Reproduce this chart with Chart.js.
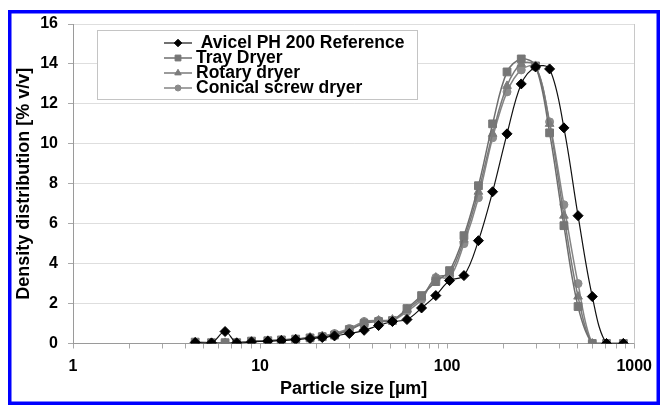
<!DOCTYPE html>
<html>
<head>
<meta charset="utf-8">
<script src="https://cdn.jsdelivr.net/npm/chart.js@4.4.0/dist/chart.umd.min.js"></script>
<style>
  html, body { margin: 0; padding: 0; background: #ffffff; }
  #wrap { position: relative; width: 660px; height: 406px; }
</style>
</head>
<body>
<div id="wrap"><canvas id="psd" width="660" height="406"></canvas></div>
<script>
// Laser-diffraction size classes (µm)
const particleSizes = [4.5, 5.5, 6.5, 7.5, 9, 11, 13, 15.5, 18.5, 21.5, 25, 30, 36, 43, 51, 61,
                       73, 87, 103, 123, 147, 175, 209, 249, 297, 353, 421, 501, 597, 711, 875];

// Density distribution [% v/v] per size class
const avicelReference = [0.05, 0.03, 0.6, 0.03, 0.08, 0.12, 0.15, 0.2, 0.25, 0.3, 0.38, 0.5, 0.66, 0.9, 1.1, 1.2,
                         1.78, 2.4, 3.15, 3.4, 5.15, 7.6, 10.5, 13.0, 13.85, 13.75, 10.8, 6.4, 2.35, 0, 0];
const trayDryer       = [0.07, 0.04, 0.04, 0.04, 0.12, 0.14, 0.18, 0.22, 0.28, 0.34, 0.42, 0.7, 1.0, 1.1, 1.15, 1.75,
                         2.4, 3.1, 3.65, 5.4, 7.9, 11.0, 13.6, 14.25, 13.9, 10.55, 5.9, 1.85, 0, 0, 0];
const rotaryDryer     = [0.05, 0.03, 0.03, 0.04, 0.11, 0.14, 0.17, 0.22, 0.3, 0.36, 0.45, 0.65, 1.05, 1.15, 1.2, 1.7,
                         2.3, 3.3, 3.5, 5.2, 7.6, 10.5, 12.9, 14.0, 13.9, 11.0, 6.4, 2.35, 0, 0, 0];
const conicalScrewDryer = [0.05, 0.03, 0.03, 0.04, 0.1, 0.13, 0.16, 0.22, 0.3, 0.38, 0.5, 0.75, 1.1, 1.15, 1.15, 1.6,
                         2.2, 3.3, 3.3, 5.0, 7.3, 10.3, 12.6, 13.7, 13.85, 11.1, 6.95, 3.0, 0, 0, 0];

const seriesNames = ['Avicel PH 200 Reference', 'Tray Dryer', 'Rotary dryer', 'Conical screw dryer'];
const xTickLabels = [1, 10, 100, 1000];
const yTickLabels = [0, 2, 4, 6, 8, 10, 12, 14, 16];

const FONT = '"Liberation Sans", Arial, sans-serif';

function points(values) {
  return particleSizes.map((s, i) => ({ x: s, y: values[i] }));
}

function series(label, values, color, lineColor, style, radius, width) {
  return {
    label: label,
    data: points(values),
    borderColor: lineColor,
    backgroundColor: color,
    pointBackgroundColor: color,
    pointBorderColor: color,
    pointBorderWidth: 1,
    pointStyle: style,
    pointRadius: radius,
    pointHoverRadius: radius,
    borderWidth: width,
    tension: 0.35,
    fill: false
  };
}

const datasets = [
  series(seriesNames[0], avicelReference, '#000000', '#111111', 'rectRot', 5, 1.2),
  series(seriesNames[1], trayDryer, '#767676', '#6e6e6e', 'rect', 5.5, 1.5),
  series(seriesNames[2], rotaryDryer, '#7c7c7c', '#7a7a7a', 'triangle', 5, 1.5),
  series(seriesNames[3], conicalScrewDryer, '#8c8c8c', '#858585', 'circle', 4, 1.5)
];

// Frame, outer border and the in-plot legend box
const decorations = {
  id: 'decorations',
  beforeDraw(chart) {
    const ctx = chart.ctx;
    ctx.save();
    ctx.fillStyle = '#ffffff';
    ctx.fillRect(0, 0, chart.width, chart.height);
    ctx.restore();
  },
  afterDatasetsDraw(chart) {
    const ctx = chart.ctx;
    const a = chart.chartArea;
    ctx.save();
    // right edge of the plot frame
    ctx.strokeStyle = '#c8c8c8';
    ctx.lineWidth = 1;
    ctx.beginPath();
    ctx.moveTo(Math.round(a.right) + 0.5, a.top);
    ctx.lineTo(Math.round(a.right) + 0.5, a.bottom);
    ctx.stroke();

    // legend box
    const box = { x: 97.5, y: 30.5, w: 320, h: 69 };
    ctx.fillStyle = '#ffffff';
    ctx.fillRect(box.x, box.y, box.w, box.h);
    ctx.strokeStyle = '#c4c4c4';
    ctx.strokeRect(box.x, box.y, box.w, box.h);

    ctx.font = 'bold 17.5px ' + FONT;
    ctx.textBaseline = 'middle';
    ctx.textAlign = 'left';
    chart.data.datasets.forEach((ds, i) => {
      const cy = 43 + i * 15;
      ctx.strokeStyle = ds.borderColor;
      ctx.lineWidth = ds.borderWidth;
      ctx.beginPath();
      ctx.moveTo(164, cy);
      ctx.lineTo(192, cy);
      ctx.stroke();
      ctx.fillStyle = ds.pointBackgroundColor;
      ctx.strokeStyle = ds.pointBorderColor;
      ctx.lineWidth = 1;
      Chart.helpers.drawPoint(ctx, { pointStyle: ds.pointStyle, radius: ds.pointRadius * 0.75, rotation: 0, borderWidth: 1 }, 178, cy);
      ctx.fillStyle = '#000000';
      ctx.fillText((i === 0 ? ' ' : '') + ds.label, 196, cy + 0.5);
    });
    ctx.restore();

    // outer blue border
    ctx.save();
    ctx.strokeStyle = '#0000ff';
    ctx.lineWidth = 3.5;
    ctx.strokeRect(9.75, 11.75, 648.5, 391.5);
    ctx.restore();
  }
};

new Chart(document.getElementById('psd'), {
  type: 'line',
  data: { datasets: datasets },
  options: {
    responsive: false,
    devicePixelRatio: 1,
    animation: false,
    events: [],
    layout: { padding: { left: 0, top: 24, right: 22, bottom: 0 } },
    plugins: {
      legend: { display: false },
      tooltip: { enabled: false }
    },
    scales: {
      x: {
        type: 'logarithmic',
        min: 1,
        max: 1000,
        afterBuildTicks(scale) {
          const ticks = [];
          for (let d = 0; d < xTickLabels.length - 1; d++) {
            for (let m = 1; m < 10; m++) ticks.push({ value: xTickLabels[d] * m });
          }
          ticks.push({ value: xTickLabels[xTickLabels.length - 1] });
          scale.ticks = ticks;
        },
        afterFit(scale) { scale.height = 62.5; },
        grid: {
          drawOnChartArea: false,
          drawTicks: true,
          tickLength: 5,
          tickColor: '#a8a8a8'
        },
        border: { display: true, color: '#9a9a9a', width: 1 },
        ticks: {
          autoSkip: false,
          maxRotation: 0,
          padding: 8,
          color: '#000000',
          font: { family: FONT, size: 16, weight: 'bold' },
          callback(value) { return xTickLabels.includes(value) ? String(value) : ''; }
        },
        title: {
          display: true,
          text: 'Particle size [µm]',
          color: '#000000',
          font: { family: FONT, size: 18, weight: 'bold' },
          padding: { top: 0, bottom: 6 }
        }
      },
      y: {
        min: 0,
        max: 16,
        afterBuildTicks(scale) { scale.ticks = yTickLabels.map(v => ({ value: v })); },
        afterFit(scale) { scale.width = 73; },
        grid: {
          color: '#dedede',
          lineWidth: 1,
          drawTicks: true,
          tickLength: 5,
          tickColor: '#a8a8a8'
        },
        border: { display: true, color: '#9a9a9a', width: 1 },
        ticks: {
          padding: 10,
          color: '#000000',
          font: { family: FONT, size: 16, weight: 'bold' }
        },
        title: {
          display: true,
          text: 'Density distribution [% v/v]',
          color: '#000000',
          font: { family: FONT, size: 18, weight: 'bold' },
          padding: { top: 13, bottom: 0 }
        }
      }
    }
  },
  plugins: [decorations]
});
</script>
</body>
</html>
